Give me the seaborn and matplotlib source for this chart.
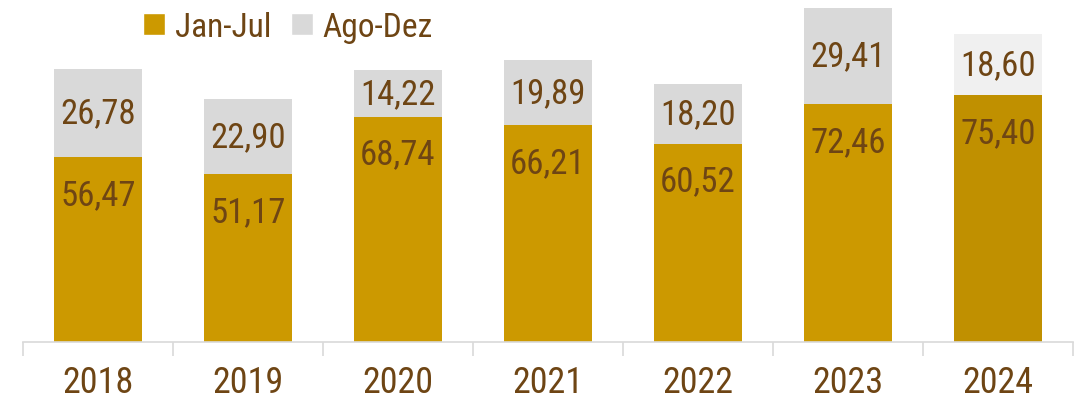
import matplotlib
matplotlib.use('Agg')
import matplotlib.pyplot as plt
import seaborn as sns
from matplotlib.patches import Patch

years = ['2018', '2019', '2020', '2021', '2022', '2023', '2024']
jan_jul = [56.47, 51.17, 68.74, 66.21, 60.52, 72.46, 75.40]
ago_dez = [26.78, 22.90, 14.22, 19.89, 18.20, 29.41, 18.60]
totals = [a + b for a, b in zip(jan_jul, ago_dez)]

gold = '#CC9900'
gold_proj = '#C09000'
gray = '#D9D9D9'
gray_proj = '#F0F0F0'
txt = '#6E4514'

sns.set_style('white')
plt.rcParams['font.family'] = ['Roboto Condensed', 'Liberation Sans', 'DejaVu Sans']

fig = plt.figure(figsize=(10.79, 4.06), dpi=100)
ax = fig.add_axes([23 / 1079, 63 / 406, 1050 / 1079, 343 / 406])

# stacked: totals in gray, Jan-Jul in gold on top of them
sns.barplot(x=years, y=totals, hue=years, palette=[gray] * 6 + [gray_proj],
            width=0.59, legend=False, ax=ax, saturation=1, linewidth=0)
sns.barplot(x=years, y=jan_jul, hue=years, palette=[gold] * 6 + [gold_proj],
            width=0.59, legend=False, ax=ax, saturation=1, linewidth=0)

def fmt(v):
    return f'{v:.2f}'.replace('.', ',')

for i in range(len(years)):
    ax.annotate(fmt(jan_jul[i]), (i, jan_jul[i]), xytext=(0, -27), textcoords='offset points',
                ha='center', va='center', fontsize=25, color=txt)
    ax.text(i, jan_jul[i] + ago_dez[i] / 2, fmt(ago_dez[i]),
            ha='center', va='center', fontsize=25, color=txt)

ax.set_xlim(-0.5, 6.5)
ax.set_ylim(0, 104.6)
ax.set_yticks([])
for s in ['top', 'right', 'left']:
    ax.spines[s].set_visible(False)
ax.spines['bottom'].set_color('#D9D9D9')
ax.spines['bottom'].set_linewidth(1.2)
ax.set_xticks(range(len(years)))
ax.set_xticklabels(years, fontsize=26, color=txt)
ax.set_xticks([i - 0.5 for i in range(len(years) + 1)], minor=True)
ax.tick_params(axis='x', which='major', length=0, pad=16)
ax.tick_params(axis='x', which='minor', bottom=True, length=10, width=1.2,
               color='#D9D9D9', direction='out')
ax.set_xlabel('')
ax.set_ylabel('')

handles = [Patch(facecolor=gold, label='Jan-Jul'), Patch(facecolor=gray, label='Ago-Dez')]
fig.legend(handles=handles, loc='upper left', bbox_to_anchor=(113 / 1079, 1.045), ncol=2,
           frameon=False, fontsize=24, labelcolor=txt, handlelength=0.65, handleheight=0.65,
           handletextpad=0.3, columnspacing=0.6)

fig.savefig('out.png', dpi=100)
